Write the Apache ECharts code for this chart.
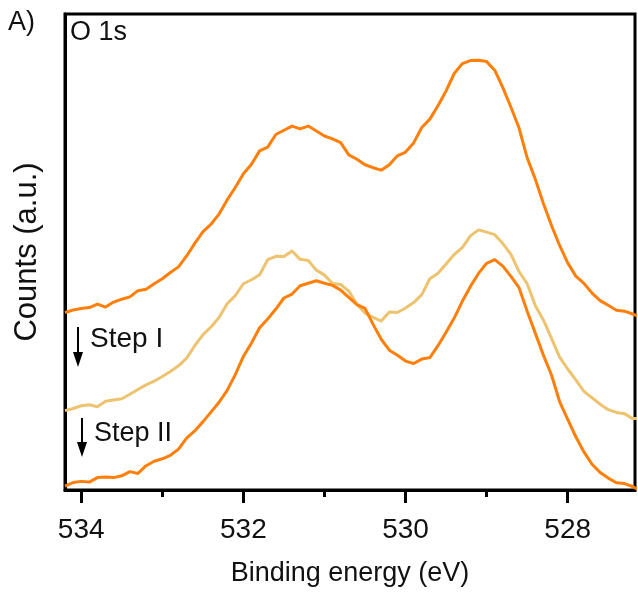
<!DOCTYPE html>
<html>
<head>
<meta charset="utf-8">
<script src="https://cdn.jsdelivr.net/npm/echarts@6/dist/echarts.min.js"></script>
<style>html,body{margin:0;padding:0;background:#fff}#c{width:638px;height:592px}</style>
</head>
<body>
<div id="c"></div>
<script>
// Binding energy (eV), 0.1 eV steps
var energies = [534.2,534.1,534.0,533.9,533.8,533.7,533.6,533.5,533.4,533.3,533.2,533.1,533.0,532.9,532.8,532.7,532.6,532.5,532.4,532.3,532.2,532.1,532.0,531.9,531.8,531.7,531.6,531.5,531.4,531.3,531.2,531.1,531.0,530.9,530.8,530.7,530.6,530.5,530.4,530.3,530.2,530.1,530.0,529.9,529.8,529.7,529.6,529.5,529.4,529.3,529.2,529.1,529.0,528.9,528.8,528.7,528.6,528.5,528.4,528.3,528.2,528.1,528.0,527.9,527.8,527.7,527.6,527.5,527.4,527.3,527.2,527.1];
// Counts (a.u.), offset-stacked spectra
var countsInitial = [179,181.5,183,184,187.5,184.5,189.5,192.4,194.7,201,202.5,208,213,219.3,225,236,248.7,260.3,268,278.2,292.5,305,319,328.5,342,345.7,358.5,362.8,367,364.2,367,362,357,354,350.3,338,333.5,328,325,322.5,328,337,340.8,350,365.5,374,387.5,402.5,420,430,433,433.3,432,423.3,405.7,386,365,335,313.5,289,266.7,246.6,229,215.7,208.4,198.6,191,186.3,181.3,180.3,177.5,174];
var countsStepI = [80,82.2,85,86,84,89.4,90.8,92,96.5,101.3,106,109.7,114.5,119.5,125.2,133,145.5,156.5,164.4,174,187.8,196,208,212,217,232.2,235.6,235.4,241,232.6,231.4,221.7,216.7,208.3,207.2,200.6,187.3,178.4,174.2,170.3,179.5,179,183.5,189,197,213,218.5,228,237.5,244.4,256.3,262.3,260,257.5,248.5,237.5,220.3,208,186,171.5,153,134,122,111,99.5,93,86.5,81,78.2,77,72,72.3];
var countsStepII = [4,7.5,8.7,8,12.5,13,12.5,14.3,18.5,16.7,24.5,29,31.5,35,41.2,52.4,59.6,68.7,78.5,88.5,100.4,116.4,134.7,148.3,163.6,172.5,182.5,193.6,197.6,206,208.5,211,208.5,206.3,201.6,194.2,187,183.1,167,152,141,135.8,130,127.6,132,133.5,145.5,159,173.4,190.3,205.3,218.4,228.6,232.3,225.8,215.4,204,180.2,158.2,136,116,89.2,71.2,53.7,38.4,26,17.7,12,7.3,6.5,3.5,-1];
var majorTicks = [534, 532, 530, 528];
var minorTicks = [533, 531, 529];

function pairs(ys) { return energies.map(function (e, i) { return [e, ys[i]]; }); }

var FONT = 'Liberation Sans, Arial, sans-serif';
var chart = echarts.init(document.getElementById('c'), null, {renderer: 'canvas'});
var xRange = {type: 'value', min: 527.17, max: 534.2, inverse: true, position: 'bottom'};
chart.setOption({
  animation: false,
  backgroundColor: '#fff',
  grid: {left: 65, right: 3, top: 14, bottom: 98, show: true, borderColor: '#000', borderWidth: 3, backgroundColor: 'transparent'},
  xAxis: [
    Object.assign({}, xRange, {
      name: 'Binding energy (eV)', nameLocation: 'middle', nameGap: 70,
      nameTextStyle: {fontFamily: FONT, fontSize: 27, color: '#111'},
      axisLine: {show: true, lineStyle: {color: '#000', width: 3}},
      axisTick: {show: true, customValues: majorTicks, length: 13, lineStyle: {color: '#000', width: 3}},
      axisLabel: {show: true, customValues: majorTicks, margin: 26, fontFamily: FONT, fontSize: 28, color: '#111'},
      splitLine: {show: false}
    }),
    Object.assign({}, xRange, {
      axisLine: {show: false},
      axisTick: {show: true, customValues: minorTicks, length: 7, lineStyle: {color: '#000', width: 3}},
      axisLabel: {show: false},
      splitLine: {show: false}
    })
  ],
  yAxis: {
    type: 'value', min: 0, max: 480,
    name: 'Counts (a.u.)', nameLocation: 'middle', nameGap: 22,
    nameTextStyle: {fontFamily: FONT, fontSize: 31, color: '#111'},
    axisLine: {show: true, lineStyle: {color: '#000', width: 3}},
    axisTick: {show: false}, axisLabel: {show: false}, splitLine: {show: false}
  },
  series: [
    {type: 'line', data: pairs(countsInitial), showSymbol: false, lineStyle: {color: '#FF7F0A', width: 3, join: 'round'}, z: 3},
    {type: 'line', data: pairs(countsStepI), showSymbol: false, lineStyle: {color: '#EDC36F', width: 3, join: 'round'}, z: 2},
    {type: 'line', data: pairs(countsStepII), showSymbol: false, lineStyle: {color: '#FF7F0A', width: 3, join: 'round'}, z: 3}
  ],
  graphic: [
    {type: 'text', left: 8, top: 9, style: {text: 'A)', font: '27px ' + FONT, fill: '#111'}},
    {type: 'text', left: 70, top: 19, style: {text: 'O 1s', font: '27px ' + FONT, fill: '#111'}},
    {type: 'text', left: 90, top: 325, style: {text: 'Step I', font: '28px ' + FONT, fill: '#111'}},
    {type: 'text', left: 94, top: 420, style: {text: 'Step II', font: '27px ' + FONT, fill: '#111'}},
    {type: 'line', shape: {x1: 78, y1: 327, x2: 78, y2: 354}, style: {stroke: '#000', lineWidth: 2}},
    {type: 'polygon', shape: {points: [[73, 352], [83, 352], [78, 367]]}, style: {fill: '#000'}},
    {type: 'line', shape: {x1: 82, y1: 418, x2: 82, y2: 444}, style: {stroke: '#000', lineWidth: 2}},
    {type: 'polygon', shape: {points: [[77, 442], [87, 442], [82, 457]]}, style: {fill: '#000'}}
  ]
});
</script>
</body>
</html>
